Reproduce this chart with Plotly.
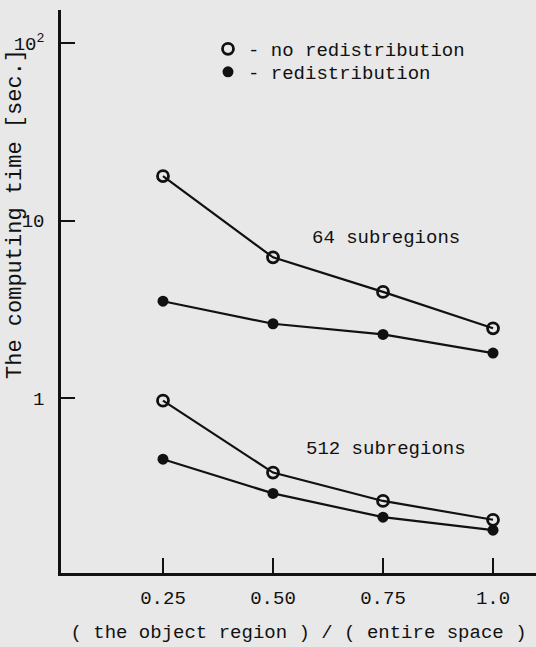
import plotly.graph_objects as go

x_ratio = [0.25, 0.50, 0.75, 1.0]
t64_no_redist = [17.8, 6.2, 3.96, 2.47]
t64_redist = [3.51, 2.62, 2.28, 1.79]
t512_no_redist = [0.966, 0.38, 0.263, 0.206]
t512_redist = [0.452, 0.290, 0.213, 0.180]

x_ticks = [0.25, 0.50, 0.75, 1.0]
x_ticklabels = ["0.25", "0.50", "0.75", "1.0"]
y_ticks = [1, 10, 100]
y_ticklabels = ["1", "10", "10<sup>2</sup>"]

FONT = "Courier New, Liberation Mono, DejaVu Sans Mono, monospace"
BG = "#e8e8e8"
INK = "#111111"

L, R, T, B = 61, 0, 10, 74
W, H = 536, 647
plot_w, plot_h = W - L - R, H - T - B


def px_x(px):
    return (px - L) / plot_w


def px_y(py):
    return 1 - (py - T) / plot_h


open_marker = dict(symbol="circle-open", size=11, color=INK, line=dict(width=2.8, color=INK))
filled_marker = dict(symbol="circle", size=11, color=INK)

fig = go.Figure()
for ys, mk in [(t64_no_redist, open_marker), (t64_redist, filled_marker),
               (t512_no_redist, open_marker), (t512_redist, filled_marker)]:
    fig.add_trace(go.Scatter(x=x_ratio, y=ys, mode="lines+markers",
                             line=dict(color=INK, width=2.2), marker=mk,
                             showlegend=False, cliponaxis=False))

fig.add_trace(go.Scatter(x=[None], y=[None], mode="markers", marker=open_marker,
                         name="- no redistribution", legend="legend"))
fig.add_trace(go.Scatter(x=[None], y=[None], mode="markers", marker=filled_marker,
                         name="- redistribution", legend="legend2"))

leg_common = dict(xanchor="left", yanchor="middle", bgcolor="rgba(0,0,0,0)",
                  font=dict(family=FONT, size=19, color=INK), borderwidth=0)

fig.update_layout(
    width=W, height=H,
    margin=dict(l=L, r=R, t=T, b=B, autoexpand=False),
    paper_bgcolor=BG, plot_bgcolor=BG,
    font=dict(family=FONT, size=19, color=INK),
    showlegend=True,
    legend=dict(x=px_x(208), y=px_y(49), **leg_common),
    legend2=dict(x=px_x(208), y=px_y(72), **leg_common),
    xaxis=dict(range=[0.0182, 1.0977], tickvals=x_ticks, ticktext=x_ticklabels,
               ticks="inside", ticklen=15, tickwidth=2, tickcolor=INK,
               showline=True, linewidth=2.5, linecolor=INK, showgrid=False,
               zeroline=False, ticklabelstandoff=5, automargin=False,
               title=dict(text="( the object region ) / ( entire space )",
                          font=dict(family=FONT, size=19), standoff=17)),
    yaxis=dict(type="log", range=[-0.986, 2.186], tickvals=y_ticks, ticktext=y_ticklabels,
               ticks="inside", ticklen=14, tickwidth=2, tickcolor=INK,
               showline=True, linewidth=2.5, linecolor=INK, showgrid=False,
               zeroline=False, ticklabelstandoff=10, automargin=False),
    annotations=[
        dict(x=0.757, y=0.904, xref="x", yref="y", text="64 subregions",
             showarrow=False, font=dict(family=FONT, size=19, color=INK)),
        dict(x=0.757, y=-0.287, xref="x", yref="y", text="512 subregions",
             showarrow=False, font=dict(family=FONT, size=19, color=INK)),
        dict(x=px_x(15), y=px_y(214), xref="paper", yref="paper",
             xanchor="center", yanchor="middle",
             text="The computing time [sec.]",
             showarrow=False, textangle=-90, font=dict(family=FONT, size=22, color=INK)),
    ],
)

fig.write_html("out.html", config={"displayModeBar": False},
               post_script="document.body.style.margin='0';"
                           "document.body.style.background='" + BG + "';")
